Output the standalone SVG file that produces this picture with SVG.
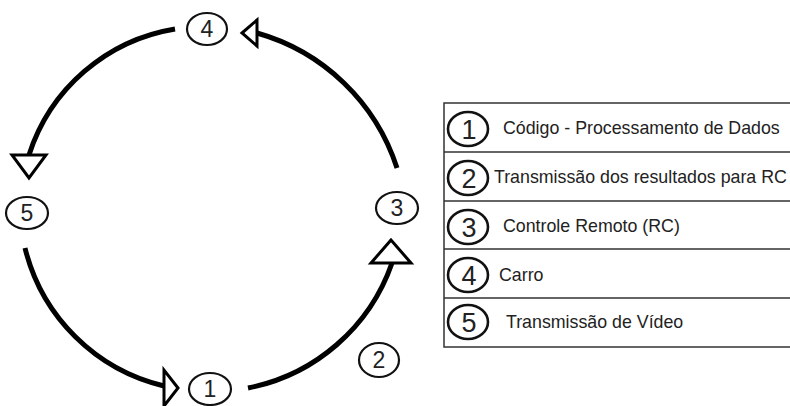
<svg xmlns="http://www.w3.org/2000/svg" width="790" height="406" viewBox="0 0 790 406">
  <style>
    .node ellipse { fill: #fff; stroke: #111; stroke-width: 2.2; }
    .node text { font-family: "Liberation Sans", Arial, sans-serif; font-size: 23px; fill: #222; text-anchor: middle; }
    .conn { fill: none; stroke: #000; stroke-width: 5; }
    .head { fill: #fff; stroke: #000; stroke-width: 3; stroke-linejoin: miter; }
    .grid { fill: none; stroke: #333; stroke-width: 1.5; }
    .tnum ellipse { fill: #fff; stroke: #111; stroke-width: 2.6; }
    .tnum text.num { font-family: "Liberation Sans", Arial, sans-serif; font-size: 27px; fill: #222; text-anchor: middle; }
    .tnum text.label { font-family: "Liberation Sans", Arial, sans-serif; font-size: 17.8px; fill: #222; text-anchor: start; }
  </style>
  <rect width="790" height="406" fill="#fff"/>

  <g id="connectors">
    <path class="conn" d="M397,168 A206,206 0 0 0 257,33"/>
    <polygon class="head" points="242,33 257,20 257,46"/>
    <path class="conn" d="M175,29 A185,185 0 0 0 29,155"/>
    <polygon class="head" points="12,155 46,155 29,178"/>
    <path class="conn" d="M25,248 A188,188 0 0 0 164,386"/>
    <polygon class="head" points="178,388 164,370 164,406"/>
    <path class="conn" d="M248,388 A191,191 0 0 0 392,263"/>
    <polygon class="head" points="391,240 371,263 411,263"/>
  </g>

  <g id="node-1" class="node">
    <ellipse cx="210" cy="389" rx="21" ry="16"/>
    <text x="210" y="397">1</text>
  </g>
  <g id="node-2" class="node">
    <ellipse cx="379" cy="360" rx="20" ry="17"/>
    <text x="379" y="368">2</text>
  </g>
  <g id="node-3" class="node">
    <ellipse cx="397" cy="208" rx="21" ry="16"/>
    <text x="397" y="216">3</text>
  </g>
  <g id="node-4" class="node">
    <ellipse cx="207" cy="29" rx="20" ry="16"/>
    <text x="207" y="37">4</text>
  </g>
  <g id="node-5" class="node">
    <ellipse cx="27" cy="213" rx="21" ry="16"/>
    <text x="27" y="221">5</text>
  </g>

  <g id="legend">
    <path class="grid" d="M800,103 H444 V347 H800 M444,152 H800 M444,201 H800 M444,249 H800 M444,298 H800"/>
    <g id="legend-1" class="tnum">
      <ellipse cx="468" cy="129" rx="20" ry="17"/>
      <text class="num" x="469" y="139">1</text>
      <text class="label" x="503" y="134">Código - Processamento de Dados</text>
    </g>
    <g id="legend-2" class="tnum">
      <ellipse cx="468" cy="178" rx="20" ry="17"/>
      <text class="num" x="469" y="188">2</text>
      <text class="label" x="494" y="183">Transmissão dos resultados para RC</text>
    </g>
    <g id="legend-3" class="tnum">
      <ellipse cx="468" cy="227" rx="20" ry="17"/>
      <text class="num" x="469" y="237">3</text>
      <text class="label" x="503" y="232">Controle Remoto (RC)</text>
    </g>
    <g id="legend-4" class="tnum">
      <ellipse cx="468" cy="275" rx="20" ry="17"/>
      <text class="num" x="469" y="285">4</text>
      <text class="label" x="499" y="281">Carro</text>
    </g>
    <g id="legend-5" class="tnum">
      <ellipse cx="468" cy="322" rx="20" ry="17"/>
      <text class="num" x="469" y="332">5</text>
      <text class="label" x="506" y="328">Transmissão de Vídeo</text>
    </g>
  </g>
</svg>
